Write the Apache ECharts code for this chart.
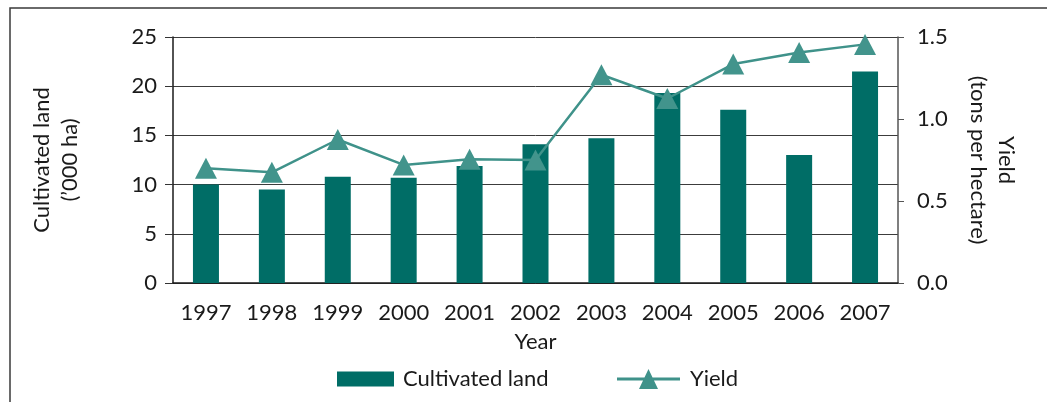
<!DOCTYPE html>
<html>
<head>
<meta charset="utf-8">
<script src="https://cdn.jsdelivr.net/npm/echarts@6/dist/echarts.min.js"></script>
<style>
  html, body { margin: 0; padding: 0; background: #fff; }
  #chart { width: 1047px; height: 402px; }
</style>
</head>
<body>
<div id="chart"></div>
<script>
  // data
  var years = ['1997', '1998', '1999', '2000', '2001', '2002', '2003', '2004', '2005', '2006', '2007']
  var cultivatedLand = [10.0, 9.5, 10.8, 10.7, 11.9, 14.1, 14.7, 19.3, 17.6, 13.0, 21.5]
  var yieldTons = [0.70, 0.675, 0.875, 0.72, 0.755, 0.75, 1.27, 1.125, 1.335, 1.405, 1.455]

  var font = 'Lato'
  var txt = '#1a1a1a'
  var fs = 22

  // legend icon for the line: a bar with a triangle on it
  var yieldIcon = 'path://M0,8.5L63,8.5L63,11.5L0,11.5Z M31.5,0L41,20L22,20Z'

  var myChart = echarts.init(document.getElementById('chart'))

  var options = {
    animation: false,
    textStyle: { fontFamily: font, color: txt },
    graphic: [
      {
        type: 'rect',
        shape: { x: 10, y: 8, width: 1200, height: 600 },
        style: { fill: 'none', stroke: '#3a3a3a', lineWidth: 1.5 },
        silent: true
      }
    ],
    grid: { left: 173, right: 149, top: 37, bottom: 119 },
    legend: [
      {
        left: 332,
        top: 363,
        itemWidth: 57,
        itemHeight: 15,
        textStyle: { fontFamily: font, fontSize: fs, color: txt, padding: [0, 0, 0, 4] },
        data: [{ name: 'Cultivated land', icon: 'rect' }]
      },
      {
        left: 612,
        top: 363,
        itemWidth: 63,
        itemHeight: 20,
        textStyle: { fontFamily: font, fontSize: fs, color: txt, padding: [0, 0, 0, 5] },
        data: [{ name: 'Yield', icon: yieldIcon, itemStyle: { color: '#3f928a' } }]
      }
    ],
    xAxis: {
      type: 'category',
      data: years,
      name: 'Year',
      nameLocation: 'middle',
      nameGap: 48,
      nameTextStyle: { fontFamily: font, fontSize: fs, color: txt },
      axisLine: { lineStyle: { color: '#1a1a1a', width: 1.5 } },
      axisTick: { length: 10, lineStyle: { color: '#444' } },
      axisLabel: { interval: 0, margin: 19, fontSize: fs, color: txt, fontFamily: font }
    },
    yAxis: [
      {
        type: 'value',
        min: 0,
        max: 25,
        interval: 5,
        name: "Cultivated land\n(\u2019000 ha)",
        nameLocation: 'middle',
        nameRotate: 90,
        nameGap: 89,
        nameTextStyle: { fontFamily: font, fontSize: fs, color: txt, lineHeight: 28 },
        axisLine: { show: true, lineStyle: { color: '#1a1a1a', width: 1.5 } },
        axisTick: { show: true, length: 8, lineStyle: { color: '#333' } },
        axisLabel: { margin: 16, fontSize: fs, color: txt, fontFamily: font },
        splitLine: { show: true, lineStyle: { color: '#3c3c3c', width: 1 } }
      },
      {
        type: 'value',
        min: 0,
        max: 1.5,
        interval: 0.5,
        position: 'right',
        name: "Yield\n(tons per hectare)",
        nameLocation: 'middle',
        nameRotate: -90,
        nameGap: 66,
        nameTextStyle: { fontFamily: font, fontSize: fs, color: txt, lineHeight: 28 },
        axisLine: { show: true, lineStyle: { color: '#555', width: 1.5 } },
        axisTick: { show: true, length: 6, lineStyle: { color: '#555' } },
        axisLabel: {
          margin: 19, fontSize: fs, color: txt, fontFamily: font,
          formatter: function (v) { return v.toFixed(1) }
        },
        splitLine: { show: false }
      }
    ],
    series: [
      {
        name: 'Cultivated land',
        type: 'bar',
        yAxisIndex: 0,
        barWidth: 26,
        itemStyle: { color: '#006d66' },
        data: cultivatedLand
      },
      {
        name: 'Yield',
        type: 'line',
        yAxisIndex: 1,
        symbol: 'triangle',
        symbolSize: [22, 21],
        lineStyle: { color: '#3f928a', width: 2.5 },
        itemStyle: { color: '#42948c' },
        z: 5,
        data: yieldTons
      }
    ]
  }

  myChart.setOption(options)
</script>
</body>
</html>
